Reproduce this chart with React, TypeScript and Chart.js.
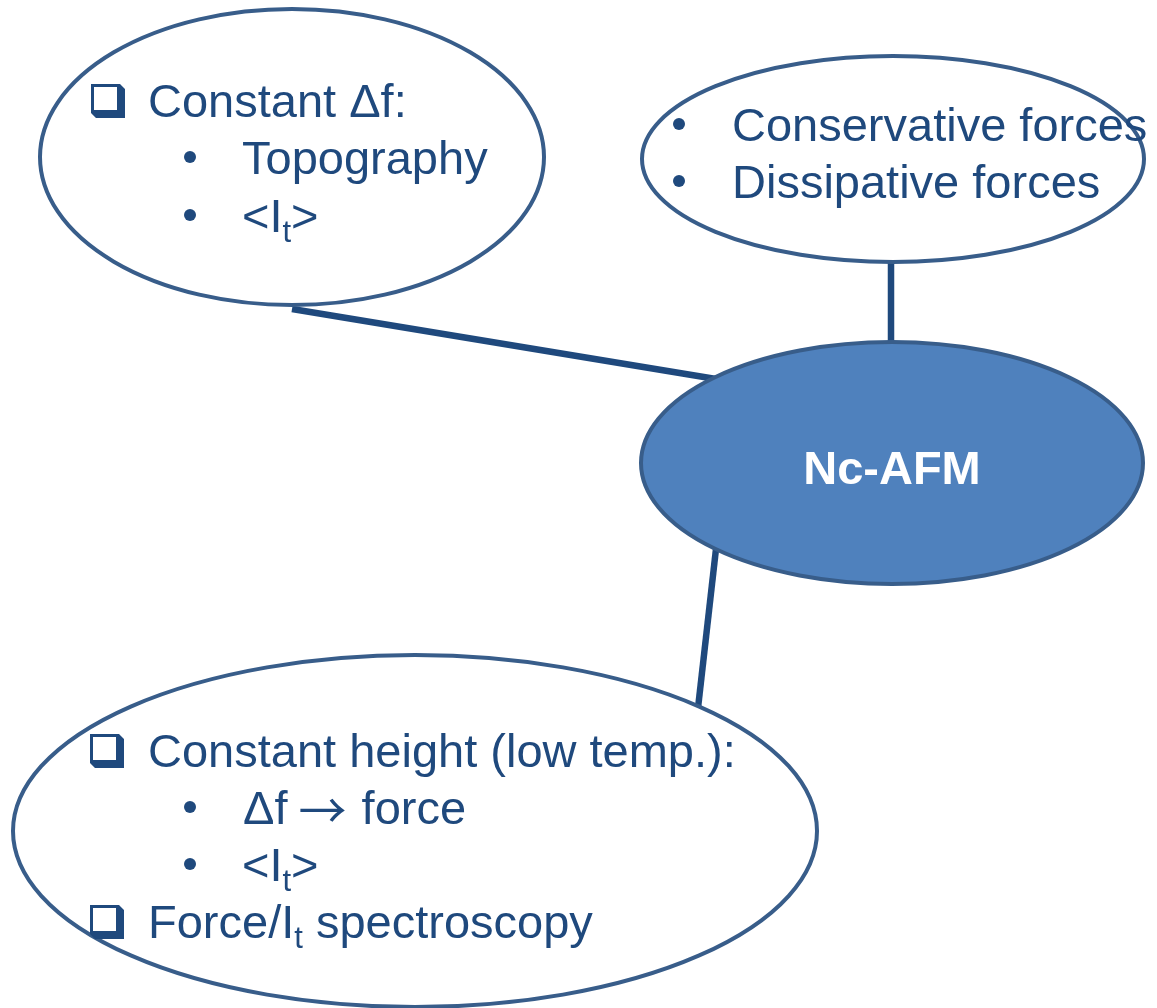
import React, { useEffect, useRef } from "react";
import { Chart, registerables } from "chart.js";

Chart.register(...registerables);

// ---- Diagram data (scale units = pixels of the 1157x1008 scene) ----
const NODE_NAMES = ["modes", "forces", "Nc-AFM", "lowTemp"];
const NODE_CX = [292, 893, 892, 415];
const NODE_CY = [157, 159, 463, 831];
const NODE_RX = [252, 251, 251, 402];
const NODE_RY = [148, 103, 121, 176];
const NODE_FILLED = [false, false, true, false];

const EDGE_X1 = [292, 891, 717];
const EDGE_Y1 = [309, 258, 540];
const EDGE_X2 = [722, 891, 698];
const EDGE_Y2 = [380, 348, 708];

const CENTER_LABEL = "Nc-AFM";

const ITEM_KIND = ["box", "bullet", "bullet", "bullet", "bullet", "box", "bullet", "bullet", "box"];
const ITEM_TEXT = [
  "Constant \u0394f:",
  "Topography",
  "<I",
  "Conservative forces",
  "Dissipative forces",
  "Constant height (low temp.):",
  "\u0394f \u2192 force",
  "<I",
  "Force/I",
];
const ITEM_SUB = ["", "", "t", "", "", "", "", "t", "t"];
const ITEM_TAIL = ["", "", ">", "", "", "", "", ">", " spectroscopy"];
// layout: marker x, text x, baseline y
const ITEM_MARK_X = [91, 190, 190, 679, 679, 90, 190, 190, 90];
const ITEM_TEXT_X = [148, 242, 242, 732, 732, 148, 243, 242, 148];
const ITEM_BASE_Y = [117, 174, 232, 141, 198, 767, 824, 881, 938];

const TEXT_COLOR = "#1f497d";
const EDGE_COLOR = "#1f497d";
const OUTLINE_COLOR = "#385d8a";
const FILL_COLOR = "#4f81bd";
const FONT = '"Liberation Sans", Arial, sans-serif';
const SYMBOL_FONT = '"Noto Sans CJK SC", "DejaVu Sans", sans-serif';
const FS = 47;

function drawSegments(ctx: CanvasRenderingContext2D, text: string, x: number, y: number): number {
  const parts = text.split("\u2192");
  for (let k = 0; k < parts.length; k++) {
    ctx.font = `${FS}px ${FONT}`;
    ctx.fillText(parts[k], x, y);
    x += ctx.measureText(parts[k]).width;
    if (k < parts.length - 1) {
      ctx.font = `48px ${SYMBOL_FONT}`;
      ctx.fillText("\u2192", x - 2, y + 4);
      x += ctx.measureText("\u2192").width;
    }
  }
  return x;
}

const diagramPlugin = {
  id: "diagram",
  afterDatasetsDraw(chart: any) {
    const ctx: CanvasRenderingContext2D = chart.ctx;
    const xs = chart.scales.x;
    const ys = chart.scales.y;
    const px = (v: number) => xs.getPixelForValue(v);
    const py = (v: number) => ys.getPixelForValue(v);
    const sx = (v: number) => Math.abs(xs.getPixelForValue(v) - xs.getPixelForValue(0));
    const sy = (v: number) => Math.abs(ys.getPixelForValue(v) - ys.getPixelForValue(0));
    ctx.save();
    for (let i = 0; i < NODE_NAMES.length; i++) {
      ctx.beginPath();
      ctx.ellipse(px(NODE_CX[i]), py(NODE_CY[i]), sx(NODE_RX[i]), sy(NODE_RY[i]), 0, 0, Math.PI * 2);
      ctx.fillStyle = NODE_FILLED[i] ? FILL_COLOR : "#ffffff";
      ctx.fill();
      ctx.lineWidth = 4;
      ctx.strokeStyle = OUTLINE_COLOR;
      ctx.stroke();
    }
    const c = NODE_NAMES.indexOf("Nc-AFM");
    ctx.fillStyle = "#ffffff";
    ctx.font = `bold ${FS}px ${FONT}`;
    ctx.textAlign = "center";
    ctx.textBaseline = "alphabetic";
    ctx.fillText(CENTER_LABEL, px(NODE_CX[c]), py(NODE_CY[c] + 21));

    ctx.textAlign = "left";
    for (let i = 0; i < ITEM_TEXT.length; i++) {
      const by = py(ITEM_BASE_Y[i]);
      const mx = px(ITEM_MARK_X[i]);
      ctx.fillStyle = TEXT_COLOR;
      ctx.strokeStyle = TEXT_COLOR;
      if (ITEM_KIND[i] === "box") {
        const s = 29, d = 5;
        const x0 = mx, y0 = by - 33;
        ctx.lineWidth = 3;
        ctx.strokeRect(x0 + 1.5, y0 + 1.5, s - 3, s - 3);
        ctx.beginPath();
        ctx.moveTo(x0, y0 + s);
        ctx.lineTo(x0 + d, y0 + s + d);
        ctx.lineTo(x0 + s + d, y0 + s + d);
        ctx.lineTo(x0 + s + d, y0 + d);
        ctx.lineTo(x0 + s, y0);
        ctx.lineTo(x0 + s, y0 + s);
        ctx.closePath();
        ctx.fill();
      } else {
        ctx.beginPath();
        ctx.arc(mx, by - 17, 6, 0, Math.PI * 2);
        ctx.fill();
      }
      let x = drawSegments(ctx, ITEM_TEXT[i], px(ITEM_TEXT_X[i]), by);
      if (ITEM_SUB[i]) {
        ctx.font = `31px ${FONT}`;
        ctx.fillText(ITEM_SUB[i], x, by + 10);
        x += ctx.measureText(ITEM_SUB[i]).width;
      }
      if (ITEM_TAIL[i]) {
        ctx.font = `${FS}px ${FONT}`;
        ctx.fillText(ITEM_TAIL[i], x, by);
      }
    }
    ctx.restore();
  },
};

export default function App() {
  const ref = useRef<HTMLCanvasElement | null>(null);
  useEffect(() => {
    if (!ref.current) return;
    const datasets = EDGE_X1.map((_, i) => ({
      label: `edge${i}`,
      data: [
        { x: EDGE_X1[i], y: EDGE_Y1[i] },
        { x: EDGE_X2[i], y: EDGE_Y2[i] },
      ],
      showLine: true,
      borderColor: EDGE_COLOR,
      borderWidth: 6.5,
      pointRadius: 0,
      pointHoverRadius: 0,
    }));
    const chart = new Chart(ref.current, {
      type: "scatter",
      data: { datasets },
      options: {
        animation: false,
        responsive: false,
        devicePixelRatio: 1,
        layout: { padding: 0 },
        events: [],
        plugins: { legend: { display: false }, tooltip: { enabled: false } },
        scales: {
          x: { type: "linear", min: 0, max: 1157, display: false },
          y: { type: "linear", min: 0, max: 1008, reverse: true, display: false },
        },
      } as any,
      plugins: [diagramPlugin],
    });
    return () => chart.destroy();
  }, []);
  return (
    <div style={{ position: "absolute", left: 0, top: 0, width: 1157, height: 1008, background: "#ffffff" }}>
      <canvas ref={ref} width={1157} height={1008} style={{ display: "block", width: 1157, height: 1008 }} />
    </div>
  );
}
